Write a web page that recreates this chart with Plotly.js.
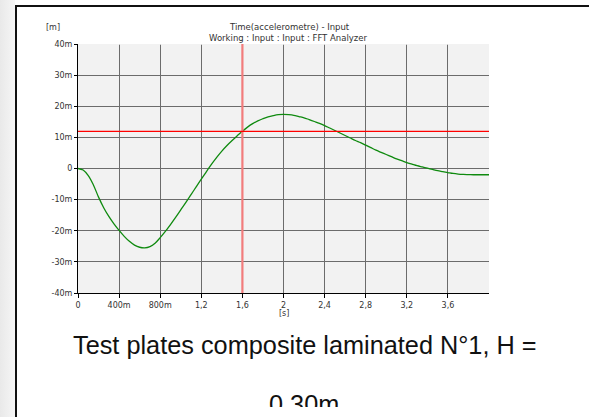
<!DOCTYPE html>
<html>
<head>
<meta charset="utf-8">
<script src="https://cdn.plot.ly/plotly-3.0.1.min.js"></script>
<style>
  html, body { margin:0; padding:0; background:#fff; }
  #wrap { position:relative; width:589px; height:417px; overflow:hidden; background:#fff; }
  #strip { position:absolute; left:0; top:0; width:15px; height:417px; background:linear-gradient(to right,#e9e9e9,#f6f6f6); }
  #vline { position:absolute; left:15px; top:5px; width:2px; height:412px; background:#111; }
  #hline { position:absolute; left:15px; top:5px; width:574px; height:2px; background:#111; }
  #chart { position:absolute; left:0; top:0; width:589px; height:417px; }
  #clip { position:absolute; left:17px; top:407px; width:572px; height:10px; background:#fff; }
</style>
</head>
<body>
<div id="wrap">
  <div id="strip"></div>
  <div id="chart"></div>
  <div id="vline"></div>
  <div id="hline"></div>
  <div id="clip"></div>
</div>
<script>
// Time signal (s) and displacement (m, in milli-units)
const timeS = [0, 0.05, 0.1, 0.15, 0.2, 0.25, 0.3, 0.35, 0.4, 0.45, 0.5, 0.55, 0.6, 0.65, 0.7, 0.75, 0.8, 0.85, 0.9, 0.95,
  1.0, 1.05, 1.1, 1.15, 1.2, 1.25, 1.3, 1.35, 1.4, 1.45, 1.5, 1.55, 1.6, 1.65, 1.7, 1.75, 1.8, 1.85, 1.9, 1.95,
  2.0, 2.05, 2.1, 2.15, 2.2, 2.25, 2.3, 2.35, 2.4, 2.45, 2.5, 2.55, 2.6, 2.65, 2.7, 2.75, 2.8, 2.85, 2.9, 2.95,
  3.0, 3.05, 3.1, 3.15, 3.2, 3.25, 3.3, 3.35, 3.4, 3.45, 3.5, 3.55, 3.6, 3.65, 3.7, 3.75, 3.8, 3.85, 3.9, 3.95, 4.0];
const dispM = [0, -0.5, -2.3, -5.3, -9.2, -12.6, -15.4, -17.8, -19.9, -21.8, -23.4, -24.6, -25.3, -25.5, -25.1, -24.0, -22.2, -20.2, -18.0, -15.7,
  -13.3, -10.9, -8.4, -5.9, -3.4, -1.0, 1.4, 3.6, 5.6, 7.4, 9.0, 10.5, 12.0, 13.3, 14.4, 15.3, 16.0, 16.6, 17.0, 17.3,
  17.4, 17.3, 17.1, 16.7, 16.3, 15.7, 15.1, 14.5, 13.8, 13.0, 12.2, 11.4, 10.6, 9.8, 9.0, 8.3, 7.5, 6.7, 5.9, 5.2,
  4.5, 3.8, 3.1, 2.5, 1.9, 1.4, 0.9, 0.5, 0.1, -0.3, -0.7, -1.0, -1.3, -1.6, -1.8, -1.9, -1.95, -2.0, -2.0, -2.0, -2.0];

// Cursor position
const cursorX = 1.6;
const cursorY = 11.9;

// Axis ticks
const xTickVals = [0, 0.4, 0.8, 1.2, 1.6, 2.0, 2.4, 2.8, 3.2, 3.6];
const xTickText = ['0', '400m', '800m', '1,2', '1,6', '2', '2,4', '2,8', '3,2', '3,6'];
const yTickVals = [-40, -30, -20, -10, 0, 10, 20, 30, 40];
const yTickText = ['-40m', '-30m', '-20m', '-10m', '0', '10m', '20m', '30m', '40m'];

const titleLines = ['Time(accelerometre) - Input', 'Working : Input : Input : FFT Analyzer'];
const yUnit = '[m]';
const xUnit = '[s]';
const captionLines = ['Test plates composite laminated N°1, H =', '0.30m'];

const W = 589, H = 417;
const mL = 78, mR = 100, mT = 44, mB = 124;
const pw = W - mL - mR, ph = H - mT - mB;
const px2x = p => (p - mL) / pw;
const py2y = p => (H - mB - p) / ph;

const tickFont = { family: 'DejaVu Sans', size: 8, color: '#333' };
const smallFont = { family: 'DejaVu Sans', size: 8.5, color: '#333' };

const trace = {
  x: timeS, y: dispM, type: 'scatter', mode: 'lines',
  line: { color: '#0f8a0f', width: 1.3, shape: 'spline', smoothing: 1 },
  hoverinfo: 'skip'
};

const layout = {
  width: W, height: H,
  margin: { l: mL, r: mR, t: mT, b: mB, pad: 0 },
  paper_bgcolor: 'rgba(0,0,0,0)',
  plot_bgcolor: '#f2f2f2',
  showlegend: false,
  xaxis: {
    range: [0, 4.0], tickvals: xTickVals, ticktext: xTickText,
    showgrid: true, gridcolor: '#6c6c6c', gridwidth: 1, zeroline: false,
    showline: true, linecolor: '#000', linewidth: 1,
    ticks: 'outside', ticklen: 4, tickcolor: '#000', tickwidth: 1,
    tickfont: tickFont, fixedrange: true
  },
  yaxis: {
    range: [-40, 40], tickvals: yTickVals, ticktext: yTickText,
    showgrid: true, gridcolor: '#6c6c6c', gridwidth: 1, zeroline: false,
    showline: true, linecolor: '#000', linewidth: 1,
    ticks: 'outside', ticklen: 3, tickcolor: '#000', tickwidth: 1,
    tickfont: tickFont, fixedrange: true
  },
  shapes: [
    { type: 'line', xref: 'paper', yref: 'y', x0: 0.002, x1: 1, y0: 40, y1: 40,
      line: { color: '#f2f2f2', width: 1.5 }, layer: 'above' },
    { type: 'line', xref: 'x', yref: 'paper', x0: cursorX, x1: cursorX, y0: 0, y1: 1,
      line: { color: '#f27c7c', width: 2.2 }, layer: 'above' },
    { type: 'line', xref: 'paper', yref: 'y', x0: 0, x1: 1, y0: cursorY, y1: cursorY,
      line: { color: '#ff0000', width: 1.2 }, layer: 'above' }
  ],
  annotations: [
    { text: titleLines[0], xref: 'paper', yref: 'paper', x: px2x(289), y: py2y(26.5),
      xanchor: 'center', yanchor: 'middle', showarrow: false, font: smallFont },
    { text: titleLines[1], xref: 'paper', yref: 'paper', x: px2x(288), y: py2y(38.5),
      xanchor: 'center', yanchor: 'middle', showarrow: false, font: smallFont },
    { text: yUnit, xref: 'paper', yref: 'paper', x: px2x(53), y: py2y(27),
      xanchor: 'center', yanchor: 'middle', showarrow: false,
      font: { family: 'DejaVu Sans', size: 8, color: '#333' } },
    { text: xUnit, xref: 'paper', yref: 'paper', x: 0.5, y: py2y(313),
      xanchor: 'center', yanchor: 'middle', showarrow: false,
      font: { family: 'DejaVu Sans', size: 8, color: '#333' } },
    { text: captionLines[0], xref: 'paper', yref: 'paper', x: px2x(305), y: py2y(345),
      xanchor: 'center', yanchor: 'middle', showarrow: false,
      font: { family: 'Liberation Sans', size: 25.3, color: '#111' } },
    { text: captionLines[1], xref: 'paper', yref: 'paper', x: px2x(304), y: py2y(404),
      xanchor: 'center', yanchor: 'middle', showarrow: false,
      font: { family: 'Liberation Sans', size: 25.3, color: '#111' } }
  ]
};

Plotly.newPlot('chart', [trace], layout, { displayModeBar: false, staticPlot: true });
</script>
</body>
</html>
